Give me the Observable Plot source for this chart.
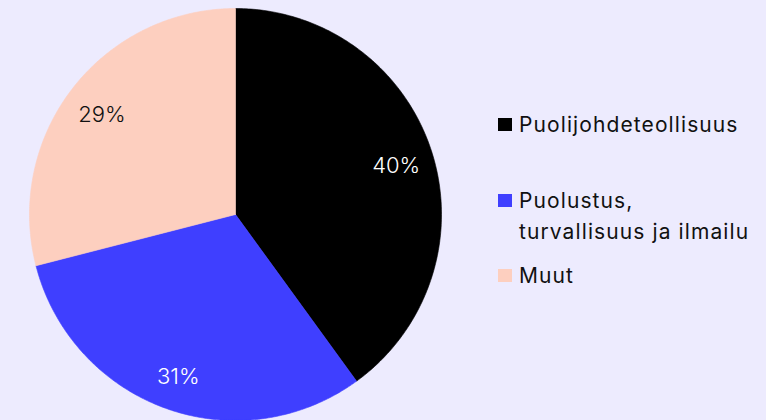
<!DOCTYPE html>
<html><head><meta charset="utf-8">
<script src="https://cdn.jsdelivr.net/npm/d3@7"></script>
<script src="https://cdn.jsdelivr.net/npm/@observablehq/plot@0.6"></script>
<style>
body{margin:0;background:#EDEBFE;font-family:Inter,sans-serif}
#wrap{position:relative;width:766px;height:420px;overflow:hidden}
#wrap svg{position:absolute;left:0;top:0;background:transparent}
.leg{position:absolute;left:498px;font-size:21px;line-height:31px;letter-spacing:1.1px;color:#111;white-space:nowrap}
.sw{position:absolute;left:0;width:14px;height:13px;top:9px}
.lt{margin-left:21px}
</style></head><body><div id="wrap"></div>
<script>
const categories = ["Puolijohdeteollisuus", "Puolustus, turvallisuus ja ilmailu", "Muut"];
const legendLines = [["Puolijohdeteollisuus"], ["Puolustus,", "turvallisuus ja ilmailu"], ["Muut"]];
const shares = [40, 31, 29];
const colors = ["#000000", "#3F3FFF", "#FDCFBF"];
const labelColors = ["#ffffff", "#ffffff", "#111111"];
const legendTops = [109, 185, 260];

const arcs = d3.pie().sort(null)(shares);
const slices = [];
arcs.forEach((a, i) => {
  slices.push({cat: categories[i], x: 0, y: 0});
  const n = 200;
  for (let k = 0; k <= n; k++) {
    const t = a.startAngle + (a.endAngle - a.startAngle) * k / n;
    slices.push({cat: categories[i], x: Math.sin(t), y: Math.cos(t)});
  }
  slices.push({cat: categories[i], x: 0, y: 0});
});
const labelR = 0.82;
const labels = arcs.map((a, i) => {
  const m = (a.startAngle + a.endAngle) / 2;
  return {text: shares[i] + "%", x: labelR * Math.sin(m), y: labelR * Math.cos(m), c: labelColors[i]};
});

const chart = Plot.plot({
  width: 766, height: 420,
  marginLeft: 29, marginRight: 325, marginTop: 8, marginBottom: 0,
  x: {domain: [-1, 1], axis: null},
  y: {domain: [-1, 1], axis: null},
  color: {domain: categories, range: colors},
  style: {background: "transparent", overflow: "visible"},
  marks: [
    Plot.line(slices, {x: "x", y: "y", z: "cat", fill: "cat", stroke: "cat", strokeWidth: 0.6, curve: "linear"}),
    Plot.text(labels, {x: "x", y: "y", dy: 4, text: "text", fill: d => d.c, fontSize: 22, fontFamily: "Inter", fontWeight: 300})
  ]
});
const wrap = document.getElementById("wrap");
wrap.appendChild(chart);

legendLines.forEach((lines, i) => {
  const d = document.createElement("div");
  d.className = "leg";
  d.style.top = legendTops[i] + "px";
  const sw = document.createElement("div");
  sw.className = "sw";
  sw.style.background = colors[i];
  d.appendChild(sw);
  lines.forEach(l => {
    const t = document.createElement("div");
    t.className = "lt";
    t.textContent = l;
    d.appendChild(t);
  });
  wrap.appendChild(d);
});
</script></body></html>
